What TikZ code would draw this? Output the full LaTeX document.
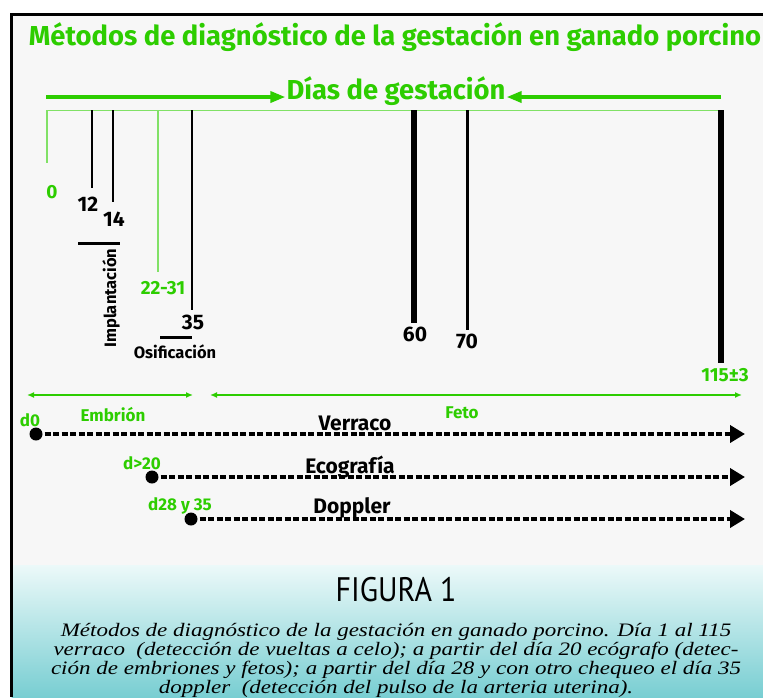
\documentclass[tikz,border=0pt]{standalone}
\usepackage{fontspec}
\setmainfont{Liberation Serif}
\newfontfamily\labfont{Fira Sans}
\newfontfamily\figfont{PT Sans}
\usepackage{tikz}
\usetikzlibrary{arrows.meta,positioning,calc}
\definecolor{labgreen}{RGB}{45,205,0}
\definecolor{paper}{RGB}{247,247,247}
\definecolor{capcyan}{RGB}{120,206,210}
\definecolor{capwhite}{RGB}{236,249,249}

\begin{document}
\begin{tikzpicture}[x=1pt,y=-1pt,
   glab/.style={text=labgreen,font=\labfont\bfseries\fontsize{17}{17}\selectfont,inner sep=0pt},
   blab/.style={text=black,font=\labfont\bfseries\fontsize{21}{21}\selectfont,inner sep=0pt},
   slab/.style={text=black,font=\labfont\bfseries\fontsize{16.5}{16.5}\selectfont,inner sep=0pt},
   daytick/.style={black,line width=2pt},
   gtick/.style={labgreen!60,line width=1.3pt},
   dayarrow/.style={labgreen,line width=3.5pt,-{Triangle[length=15pt,width=11pt]}},
   phase/.style={labgreen,line width=1.5pt,{Latex[length=7pt,width=6pt]}-{Latex[length=7pt,width=6pt]}},
   method/.style={black,line width=4pt,dash pattern=on 6pt off 2.5pt,-{Triangle[length=15pt,width=17pt]}},
   dot/.style={circle,fill=black,inner sep=0pt,minimum size=13pt}]
   \useasboundingbox (0,0) rectangle (763,697);
   % fondo y marco
   \fill[white] (0,0) rectangle (763,697);
   \fill[paper] (11.5,14.5) rectangle (763,565);
   \shade[top color=capwhite,bottom color=capcyan] (11.5,565) rectangle (763,697);
   \draw[line width=3.5pt] (11.5,697) -- (11.5,14.5) -- (763,14.5);

   \node (title) [text=labgreen,font=\labfont\bfseries\fontsize{27.4}{27.4}\selectfont,inner sep=0pt] at (395,37)
      {Métodos de diagnóstico de la gestación en ganado porcino};

   % eje de dias
   \node (dias) [text=labgreen,font=\labfont\bfseries\fontsize{27.4}{27.4}\selectfont,inner sep=1pt] at (396,91) {Días de gestación};
   \coordinate (al) at (46,97);
   \coordinate (ar) at (721,97);
   \draw[dayarrow] (al) -- (dias.west |- al);
   \draw[dayarrow] (ar) -- (dias.east |- ar);
   \coordinate (b0) at (46,110);
   \coordinate (b1) at (721,110);
   \draw[labgreen!60,line width=0.7pt] (b0) -- (b1);

   % marcas
   \path (52,192) node (d0) [glab,font=\labfont\bfseries\fontsize{19}{19}\selectfont] {0}
         (88,204) node (d12) [blab] {12}
         (114,219) node (d14) [blab] {14}
         (163,288) node (d22) [glab,font=\labfont\bfseries\fontsize{19}{19}\selectfont] {22-31}
         (193,322) node (d35) [blab] {35}
         (415,334) node (d60) [blab] {60}
         (467,341) node (d70) [blab] {70}
         (725,375) node (d115) [glab,font=\labfont\bfseries\fontsize{19}{19}\selectfont] {115±3};
   \draw[gtick] (47,110) -- (47,163);
   \draw[daytick] (92,110) -- (92,188);
   \draw[daytick] (113,110) -- (113,202);
   \draw[gtick] (158,110) -- (158,272);
   \draw[daytick] (192,110) -- (192,310);
   \draw[black,line width=5.5pt] (414,110) -- (414,323);
   \draw[black,line width=3pt] (467,110) -- (467,330);
   \draw[black,line width=6pt] (721,110) -- (721,363);

   \draw[black,line width=3pt] (78,243) -- (120,243);
   \node (impl) [slab,rotate=90] at (111,298) {Implantación};
   \draw[black,line width=3pt] (160,337) -- (192,337);
   \node (osif) [slab] at (175,352) {Osificación};

   % embrion y feto
   \coordinate (e0) at (27,395);
   \coordinate (e1) at (193,395);
   \coordinate (f0) at (210,395);
   \coordinate (f1) at (742,395);
   \draw[phase] (e0) -- (e1);
   \draw[phase] (f0) -- (f1);
   \node (embr) [glab] at (113,415) {Embrión};
   \node (feto) [glab] at (462,413) {Feto};

   % metodos
   \node (v0) [dot] at (36,434) {};
   \node (e20) [dot] at (152,477) {};
   \node (p28) [dot] at (191,519) {};
   \coordinate (v1) at (745,434);
   \coordinate (e21) at (745,477);
   \coordinate (p29) at (745,519);
   \draw[method] (v0.center) -- (v1);
   \draw[method] (e20.center) -- (e21);
   \draw[method] (p28.center) -- (p29);
   \node [glab] at (30,420) {d0};
   \node [glab] at (142,463) {d>20};
   \node [glab] at (180,506) {d28 y 35};
   \node (verr) [blab] at (355,423) {Verraco};
   \node (ecog) [blab] at (350,467) {Ecografía};
   \node (dopp) [blab] at (352,508) {Doppler};

   % pie de figura
   \node (fig) [font=\figfont\fontsize{34}{34}\selectfont,inner sep=0pt] at (396,590) {\scalebox{0.88}[1]{FIGURA 1}};
   \node (cap) [font=\itshape\fontsize{19}{18.5}\selectfont,inner sep=0pt,anchor=north] at (396,623)
      {\scalebox{1.21}[1]{\begin{tabular}{@{}c@{}}
       Métodos de diagnóstico de la gestación en ganado porcino. Día 1 al 115\\
       verraco\ \ (detección de vueltas a celo); a partir del día 20 ecógrafo (detec-\\
       ción de embriones y fetos); a partir del día 28 y con otro chequeo el día 35\\
       doppler\ \ (detección del pulso de la arteria uterina).
       \end{tabular}}};
\end{tikzpicture}
\end{document}
